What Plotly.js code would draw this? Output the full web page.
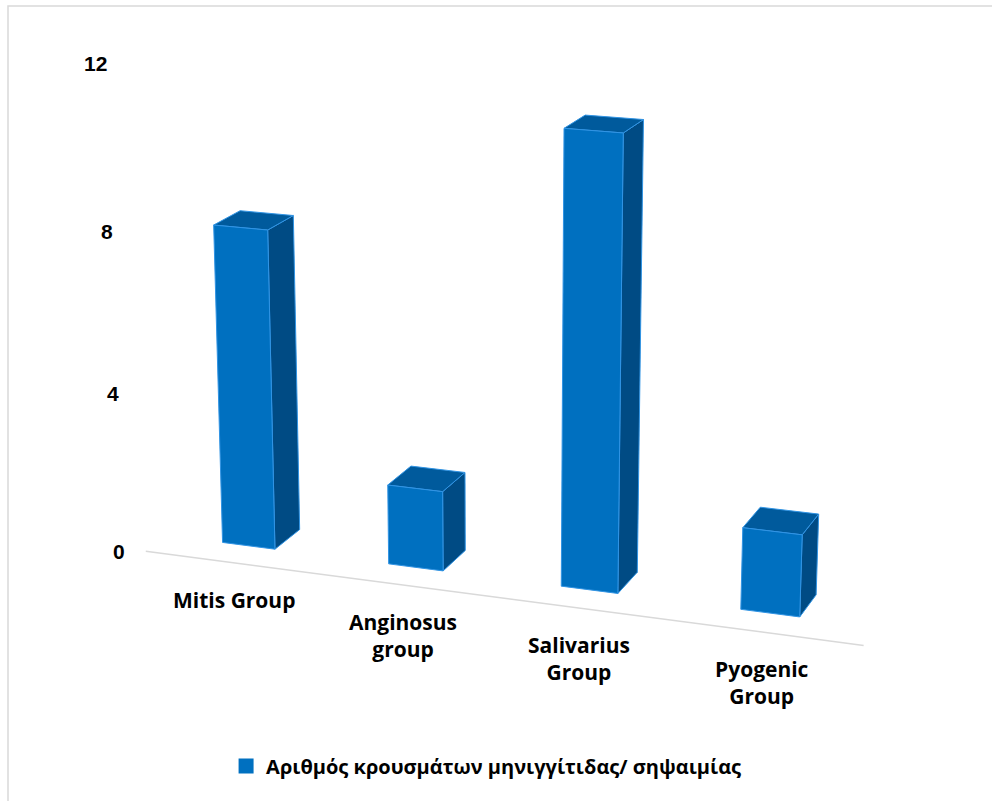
<!DOCTYPE html>
<html>
<head>
<meta charset="utf-8">
<script src="https://cdn.plot.ly/plotly-3.0.1.min.js"></script>
<style>
  html, body { margin: 0; padding: 0; background: #ffffff; }
  #chart { width: 992px; height: 801px; }
</style>
</head>
<body>
<div id="chart"></div>
<script>
// Streptococcus groups and number of meningitis / septicaemia cases
const categories = ['Mitis Group', 'Anginosus<br>group', 'Salivarius<br>Group', 'Pyogenic<br>Group'];
const caseCounts = [8, 2, 11, 2];
const valueTicks = [0, 4, 8, 12];
const seriesName = 'Αριθμός κρουσμάτων μηνιγγίτιδας/ σηψαιμίας';

// ---- 3D column geometry (world units: one unit = one case) ----
const slot = 4.38;       // distance between column centres
const colWidth = 1.4;    // column width along the category axis
const colDepth = 1.5;    // column depth
const floorZ = -1.2;     // front edge of the floor

// ---- perspective camera ----
const deg = Math.PI / 180;
const cam = {
  focal: 3100, dist: 72,
  yaw: -20 * deg, pitch: 17 * deg,
  cx: 501.8, cy: 376.7,
  target: [1.5 * slot, 5, 0]
};

function project(X, Y, Z) {
  const px = X - cam.target[0], py = Y - cam.target[1], pz = Z - cam.target[2];
  const ca = Math.cos(cam.yaw), sa = Math.sin(cam.yaw);
  const cb = Math.cos(cam.pitch), sb = Math.sin(cam.pitch);
  const x1 = px * ca - pz * sa;
  const z1 = px * sa + pz * ca;
  const y2 = py * cb + z1 * sb;
  const z2 = -py * sb + z1 * cb;
  const depth = z2 + cam.dist;
  return [cam.cx + cam.focal * x1 / depth, cam.cy - cam.focal * y2 / depth];
}

function face(corners, fill) {
  const pts = corners.map(c => project(c[0], c[1], c[2]));
  pts.push(pts[0]);
  return {
    type: 'scatter', mode: 'lines', fill: 'toself',
    x: pts.map(p => p[0]), y: pts.map(p => p[1]),
    fillcolor: fill,
    line: { color: '#3194e4', width: 1 },
    hoverinfo: 'skip', showlegend: false
  };
}

const traces = [];

// floor front edge
const floorL = project(-slot / 2, 0, floorZ);
const floorR = project(3.5 * slot + 0.3, 0, floorZ);
traces.push({
  type: 'scatter', mode: 'lines',
  x: [floorL[0], floorR[0]], y: [floorL[1], floorR[1]],
  line: { color: '#d9d9d9', width: 1.5 },
  hoverinfo: 'skip', showlegend: false
});

caseCounts.forEach((v, i) => {
  const xc = i * slot;
  const x0 = xc - colWidth / 2, x1 = xc + colWidth / 2;
  const z0 = 0, z1 = colDepth;
  // right side
  traces.push(face([[x1, 0, z0], [x1, 0, z1], [x1, v, z1], [x1, v, z0]], '#004b84'));
  // top
  traces.push(face([[x0, v, z0], [x1, v, z0], [x1, v, z1], [x0, v, z1]], '#005a9c'));
  // front
  traces.push(face([[x0, 0, z0], [x1, 0, z0], [x1, v, z0], [x0, v, z0]], '#0070c0'));
});

// legend entry
traces.push({
  type: 'scatter', mode: 'markers', x: [null], y: [null],
  name: seriesName,
  marker: { symbol: 'square', size: 15, color: '#0070c0' },
  hoverinfo: 'skip', showlegend: true
});

const annotations = [];
valueTicks.forEach(t => {
  const p = project(-slot / 2, t, floorZ);
  annotations.push({
    x: p[0], y: p[1], xref: 'x', yref: 'y',
    text: String(t), showarrow: false,
    xanchor: 'right', yanchor: 'middle', xshift: -19,
    font: { family: 'Liberation Sans, Arial, sans-serif', size: 21, color: '#000000', weight: 'bold' }
  });
});
categories.forEach((c, i) => {
  const p = project(i * slot, 0, floorZ);
  annotations.push({
    x: p[0], y: p[1], xref: 'x', yref: 'y',
    text: c, showarrow: false,
    xanchor: 'center', yanchor: 'top', xshift: 6, yshift: -22,
    font: { family: 'Open Sans, sans-serif', size: 21, color: '#000000', weight: 'bold' }
  });
});

const layout = {
  width: 992, height: 801,
  margin: { l: 0, r: 0, t: 0, b: 0 },
  paper_bgcolor: '#ffffff', plot_bgcolor: '#ffffff',
  xaxis: { range: [0, 992], visible: false, fixedrange: true },
  yaxis: { range: [801, 0], visible: false, fixedrange: true },
  showlegend: true,
  legend: {
    orientation: 'h', x: 0.49, xanchor: 'center', y: 1 - 766 / 801, yanchor: 'middle',
    font: { family: 'Open Sans, sans-serif', size: 20, color: '#000000', weight: 'bold' },
    itemwidth: 30
  },
  annotations: annotations,
  shapes: [{
    type: 'rect', xref: 'paper', yref: 'paper',
    x0: 8 / 992, x1: 1.02, y0: -0.02, y1: 1 - 6 / 801,
    line: { color: '#d9d9d9', width: 1.5 }
  }]
};

Plotly.newPlot('chart', traces, layout, { displayModeBar: false, staticPlot: true });
</script>
</body>
</html>
